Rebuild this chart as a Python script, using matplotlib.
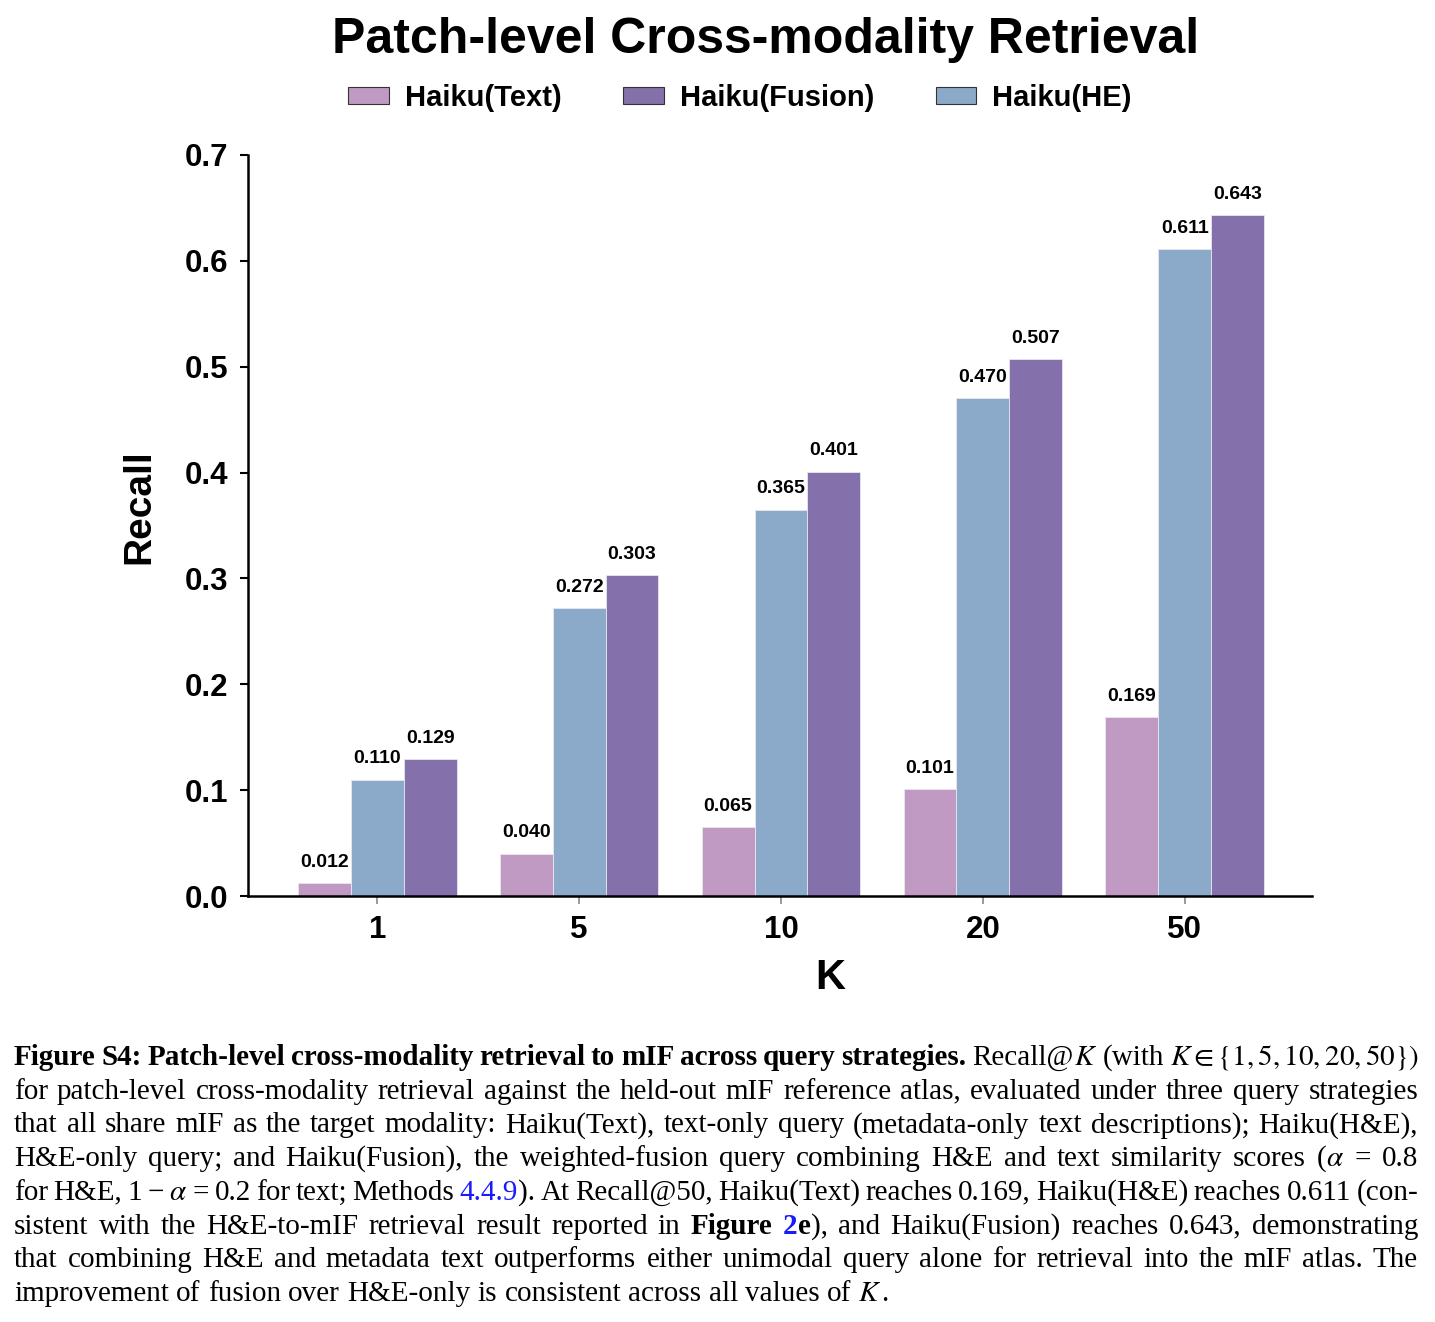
import matplotlib
matplotlib.use("Agg")
import matplotlib.pyplot as plt
import numpy as np
from matplotlib.patches import Patch
from matplotlib.font_manager import FontProperties

# ---------------- data ----------------
k_labels = ["1", "5", "10", "20", "50"]
recall_text = [0.012, 0.040, 0.065, 0.101, 0.169]
recall_he = [0.110, 0.272, 0.365, 0.470, 0.611]
recall_fusion = [0.129, 0.303, 0.401, 0.507, 0.643]
y_ticks = [0.0, 0.1, 0.2, 0.3, 0.4, 0.5, 0.6, 0.7]

c_text = "#C09AC2"
c_he = "#8BA9C8"
c_fusion = "#8470AA"

plt.rcParams["mathtext.fontset"] = "stix"
SANS = "Liberation Sans"
SERIF = "Liberation Serif"

W, H = 1435, 1322
fig = plt.figure(figsize=(W / 100, H / 100), dpi=100)
ax = fig.add_axes([248 / W, 1 - 896 / H, (1312 - 248) / W, (896 - 155) / H])

x = np.arange(len(k_labels))
bw = 0.262
series = [(recall_text, c_text, -bw), (recall_he, c_he, 0.0), (recall_fusion, c_fusion, bw)]
for vals, col, off in series:
    bars = ax.bar(x + off, vals, width=bw, color=col, edgecolor="#e8e8f0", linewidth=0.6)
    for b, v in zip(bars, vals):
        ax.annotate(f"{v:.3f}", (b.get_x() + b.get_width() / 2, v), xytext=(0, 9),
                    textcoords="offset points", ha="center", va="bottom",
                    fontsize=14, fontweight="bold", family=SANS)

ax.set_xlim(-0.64, 4.63)
ax.set_ylim(0, 0.7)
ax.set_xticks(x)
ax.set_xticklabels(k_labels)
ax.set_yticks(y_ticks)
ax.set_yticklabels([f"{t:.1f}" for t in y_ticks])
for lab in ax.get_xticklabels() + ax.get_yticklabels():
    lab.set_fontfamily(SANS)
    lab.set_fontweight("bold")
    lab.set_fontsize(22.5)
ax.tick_params(axis="y", length=6, width=1.5, color="black", pad=8)
ax.tick_params(axis="x", length=6, width=1.2, color="#888888", pad=8)
for s in ["top", "right"]:
    ax.spines[s].set_visible(False)
for s in ["left", "bottom"]:
    ax.spines[s].set_linewidth(1.8)
    ax.spines[s].set_color("black")

ax.set_ylabel("Recall", fontsize=28, fontweight="bold", family=SANS, va="center")
ax.yaxis.set_label_coords((139 - 248) / 1064, (896 - 507) / 741)
ax.set_xlabel("K", fontsize=30, fontweight="bold", family=SANS, va="center")
ax.xaxis.set_label_coords((830 - 248) / 1064, -(978 - 896) / 741)

fig.text(766 / W, 1 - 40 / H, "Patch-level Cross-modality Retrieval", ha="center", va="center",
         fontsize=36, fontweight="bold", family=SANS)

handles = [Patch(facecolor=c_text, edgecolor="#333333", linewidth=0.8, label="Haiku(Text)"),
           Patch(facecolor=c_fusion, edgecolor="#333333", linewidth=0.8, label="Haiku(Fusion)"),
           Patch(facecolor=c_he, edgecolor="#333333", linewidth=0.8, label="Haiku(HE)")]
fig.legend(handles=handles, loc="center", bbox_to_anchor=(740 / W, 1 - 98 / H), ncol=3,
           frameon=False, prop=FontProperties(family=SANS, weight="bold", size=21),
           handlelength=1.4, handleheight=0.55, columnspacing=2.1, handletextpad=0.55)

# ---------------- caption (justified) ----------------
B, N, I, M, L, BL = "bold", "normal", "italic", "math", "link", "boldlink"
caption_lines = [
    [("Figure S4:", B), (" Patch-level cross-modality retrieval to mIF across query strategies.", B),
     (" Recall@", N), ("$K$", M), (" (with ", N), ("$K\\in\\{1,5,10,20,50\\})$", M)],
    [("for patch-level cross-modality retrieval against the held-out mIF reference atlas, evaluated under three query strategies", N)],
    [("that all share mIF as the target modality: Haiku(Text), text-only query (metadata-only text descriptions); Haiku(H&E),", N)],
    [("H&E-only query; and Haiku(Fusion), the weighted-fusion query combining H&E and text similarity scores (", N),
     ("$\\alpha$", M), (" = 0.8", N)],
    [("for H&E, 1 \u2212 ", N), ("$\\alpha$", M), (" = 0.2 for text; Methods ", N), ("4.4.9", L),
     ("). At Recall@50, Haiku(Text) reaches 0.169, Haiku(H&E) reaches 0.611 (con-", N)],
    [("sistent with the H&E-to-mIF retrieval result reported in ", N), ("Figure", B), (" 2", BL), ("e", B),
     ("), and Haiku(Fusion) reaches 0.643, demonstrating", N)],
    [("that combining H&E and metadata text outperforms either unimodal query alone for retrieval into the mIF atlas. The", N)],
    [("improvement of fusion over H&E-only is consistent across all values of ", N), ("$K$", M), (".", N)],
]

CAP_SIZE = 21
LEFT_PX, RIGHT_PX = 14, 1418
BASE0, STEP = 1065, 33.7


def style_kw(st):
    kw = dict(fontsize=CAP_SIZE, family=SERIF, color="black")
    if st in (B, BL):
        kw["fontweight"] = "bold"
    if st == I:
        kw["fontstyle"] = "italic"
    if st in (L, BL):
        kw["color"] = "#1a1aff"
    return kw


def tokenize(line):
    toks = []
    pending = False
    for txt, st in line:
        if st == M:
            toks.append([txt, st, pending and len(toks) > 0])
            pending = False
            continue
        parts = txt.split(" ")
        for i, p in enumerate(parts):
            if i > 0:
                pending = True
            if p:
                toks.append([p, st, pending and len(toks) > 0])
                pending = False
    return toks


renderer = fig.canvas.get_renderer()


def width_px(txt, st):
    t = fig.text(0, 0, txt, **style_kw(st))
    w = t.get_window_extent(renderer).width
    t.remove()
    return w


space_nat = width_px("a a", N) - width_px("aa", N)

for li, line in enumerate(caption_lines):
    toks = tokenize(line)
    widths = [width_px(t, s) for t, s, _ in toks]
    n_sp = sum(1 for _, _, sp in toks if sp)
    last = li == len(caption_lines) - 1
    if last or n_sp == 0:
        gap = space_nat
    else:
        gap = (RIGHT_PX - LEFT_PX - sum(widths)) / n_sp
    xp = LEFT_PX
    yb = BASE0 + li * STEP
    for (t, s, sp), w in zip(toks, widths):
        if sp:
            xp += gap
        fig.text(xp / W, 1 - yb / H, t, ha="left", va="baseline", **style_kw(s))
        xp += w

fig.savefig("out.png", dpi=100)
